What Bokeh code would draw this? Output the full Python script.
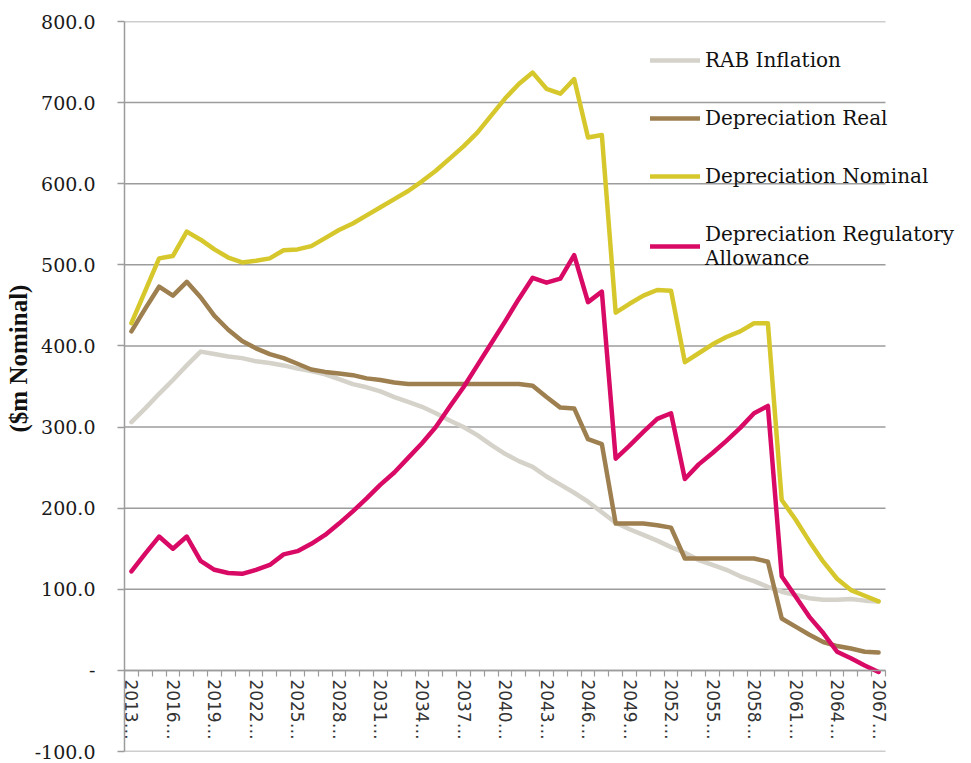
from bokeh.plotting import figure
from bokeh.models import (Range1d, FixedTicker, Legend, LegendItem,
                          NumeralTickFormatter, ColumnDataSource, Title)
from bokeh.embed import file_html
from bokeh.resources import INLINE

years = [2013, 2014, 2015, 2016, 2017, 2018, 2019, 2020, 2021, 2022,
         2023, 2024, 2025, 2026, 2027, 2028, 2029, 2030, 2031, 2032,
         2033, 2034, 2035, 2036, 2037, 2038, 2039, 2040, 2041, 2042,
         2043, 2044, 2045, 2046, 2047, 2048, 2049, 2050, 2051, 2052,
         2053, 2054, 2055, 2056, 2057, 2058, 2059, 2060, 2061, 2062,
         2063, 2064, 2065, 2066, 2067]

rab_inflation = [306, 323, 341, 358, 376, 393, 390, 387, 385, 381,
                 379, 376, 372, 369, 365, 359, 353, 349, 344, 337,
                 331, 325, 317, 308, 300, 290, 278, 267, 258, 251,
                 239, 229, 219, 208, 195, 182, 174, 167, 160, 152,
                 145, 136, 130, 124, 116, 110, 103, 97, 93, 89,
                 87, 87, 88, 86, 85]

dep_real = [418, 446, 473, 462, 479, 460, 437, 420, 406, 397,
            390, 385, 378, 371, 368, 366, 364, 360, 358, 355,
            353, 353, 353, 353, 353, 353, 353, 353, 353, 351,
            337, 324, 323, 285, 279, 181, 181, 181, 179, 176,
            138, 138, 138, 138, 138, 138, 134, 64, 54, 44,
            35, 30, 27, 23, 22]

dep_nominal = [428, 468, 508, 511, 541, 531, 519, 509, 503, 505,
               508, 518, 519, 523, 533, 543, 551, 561, 571, 581,
               591, 603, 616, 631, 646, 663, 684, 705, 723, 737,
               717, 711, 729, 657, 660, 441, 452, 462, 469, 468,
               380, 391, 402, 411, 418, 428, 428, 210, 186, 159,
               134, 113, 99, 92, 85]

dep_reg_allowance = [122, 144, 165, 150, 165, 135, 124, 120, 119, 124,
                     130, 143, 147, 156, 167, 181, 196, 212, 229, 244,
                     262, 280, 300, 325, 349, 376, 403, 430, 458, 484,
                     478, 483, 512, 454, 467, 261, 277, 294, 310, 317,
                     236, 254, 268, 283, 299, 317, 326, 116, 91, 66,
                     46, 23, 15, 6, -2]

x_tick_years = [2013, 2016, 2019, 2022, 2025, 2028, 2031, 2034, 2037, 2040,
                2043, 2046, 2049, 2052, 2055, 2058, 2061, 2064, 2067]
x_tick_labels = ["2013…", "2016…", "2019…", "2022…", "2025…", "2028…", "2031…",
                 "2034…", "2037…", "2040…", "2043…", "2046…", "2049…", "2052…",
                 "2055…", "2058…", "2061…", "2064…", "2067…"]
y_ticks = [-100, 0, 100, 200, 300, 400, 500, 600, 700, 800]

series_names = ["RAB Inflation", "Depreciation Real", "Depreciation Nominal",
                "Depreciation Regulatory\nAllowance"]
series_colors = ["#D5D2CA", "#9E7F50", "#D6C82C", "#D90A66"]

src = ColumnDataSource(dict(year=years, rab=rab_inflation, real=dep_real,
                            nominal=dep_nominal, reg=dep_reg_allowance))

# plot area of the categories: x from 124 to 885 px; the frame continues to the
# right so that the legend (which sits partly outside the plot area) is not clipped
left_px, plot_right_px, frame_right_px = 124, 885, 965
x_start = years[0] - 0.5
x_stop = years[-1] + 0.5
x_end = x_start + (frame_right_px - left_px) * (x_stop - x_start) / (plot_right_px - left_px)

p = figure(width=968, height=762, output_backend="svg", toolbar_location=None,
           x_range=Range1d(x_start, x_end),
           y_range=Range1d(-100, 800),
           min_border_left=left_px, min_border_right=968 - frame_right_px,
           min_border_top=21, min_border_bottom=11)
p.outline_line_color = None
p.background_fill_color = "white"
p.border_fill_color = "white"

grid_col = "#9C9C9C"

# horizontal gridlines across the plot area only
p.segment(x0=[x_start] * len(y_ticks), y0=y_ticks,
          x1=[x_stop] * len(y_ticks), y1=y_ticks,
          line_color=grid_col, line_width=1.5)

# y axis
p.yaxis.ticker = FixedTicker(ticks=y_ticks)
p.yaxis.formatter = NumeralTickFormatter(format="0.0")
p.yaxis.major_label_overrides = {0: "-"}
p.yaxis.axis_line_color = grid_col
p.yaxis.axis_line_width = 1.5
p.yaxis.major_tick_line_color = grid_col
p.yaxis.major_tick_line_width = 1.5
p.yaxis.major_tick_out = 7
p.yaxis.major_tick_in = 0
p.yaxis.minor_tick_line_color = None
p.yaxis.major_label_standoff = 22
p.yaxis.major_label_text_font = "DejaVu Serif"
p.yaxis.major_label_text_font_size = "19px"
p.yaxis.major_label_text_color = "#1a1a1a"

p.add_layout(Title(text="($m Nominal)", align="left", offset=319,
                   text_font="Liberation Serif", text_font_style="bold",
                   text_font_size="25px", text_color="#111111",
                   standoff=0), "left")

# x axis anchored at zero
p.xaxis.fixed_location = 0
p.xaxis.bounds = (x_start, x_stop)
p.xaxis.ticker = FixedTicker(ticks=x_tick_years,
                             minor_ticks=[y - 0.5 for y in years] + [x_stop])
p.xaxis.major_label_overrides = dict(zip(x_tick_years, x_tick_labels))
p.xaxis.major_label_orientation = "vertical"
p.xaxis.axis_line_color = grid_col
p.xaxis.axis_line_width = 1.5
p.xaxis.major_tick_line_color = None
p.xaxis.major_tick_out = 0
p.xaxis.major_tick_in = 0
p.xaxis.minor_tick_line_color = grid_col
p.xaxis.minor_tick_line_width = 1.2
p.xaxis.minor_tick_out = 6
p.xaxis.minor_tick_in = 0
p.xaxis.major_label_standoff = 3
p.xaxis.major_label_text_font = "DejaVu Sans"
p.xaxis.major_label_text_font_size = "17px"
p.xaxis.major_label_text_color = "#333333"

p.xgrid.grid_line_color = None
p.ygrid.grid_line_color = None

cols = ["rab", "real", "nominal", "reg"]
renderers = []
for col, color in zip(cols, series_colors):
    r = p.line(x="year", y=col, source=src, line_color=color, line_width=4.5,
               line_join="round", line_cap="round")
    renderers.append(r)

legend = Legend(items=[LegendItem(label=n, renderers=[r])
                       for n, r in zip(series_names, renderers)],
                location=(526, 481), orientation="vertical",
                glyph_width=50, glyph_height=24, label_height=24,
                label_standoff=5, spacing=34, padding=0, margin=0,
                label_text_font="DejaVu Serif", label_text_font_size="20px",
                label_text_color="#111111",
                background_fill_alpha=0, border_line_alpha=0)
p.add_layout(legend)

open("out.html", "w").write(file_html(p, INLINE))
